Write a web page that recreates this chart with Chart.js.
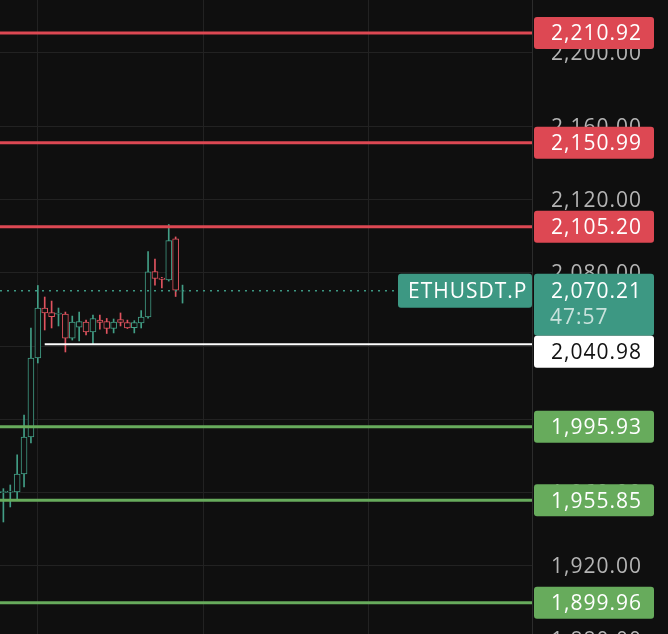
<!DOCTYPE html>
<html>
<head>
<meta charset="utf-8">
<script src="https://cdn.jsdelivr.net/npm/chart.js@4.4.1/dist/chart.umd.min.js"></script>
<style>
  html, body { margin: 0; padding: 0; background: #0f0f0f; overflow: hidden; }
  #cadre { width: 668px; height: 634px; overflow: hidden; }
  canvas { display: block; }
</style>
</head>
<body>
<div id="cadre"><canvas id="graphique" width="668" height="680"></canvas></div>
<script>
// Bougies (une par période)
const ouvertures = [1960.0, 1960.3, 1960.4, 1970.2, 1990.4, 2033.5, 2060.8, 2058.3, 2057.5, 2057.5,
  2044.4, 2050.4, 2053.1, 2047.7, 2054.2, 2053.4, 2049.6, 2054.5, 2052.9, 2050.1,
  2052.6, 2055.9, 2080.7, 2077.2, 2076.1, 2098.5, 2070.0];
const hauts = [1962.2, 1964.2, 1980.6, 2002.4, 2049.9, 2073.1, 2066.8, 2064.6, 2060.8, 2058.6,
  2056.4, 2058.6, 2054.2, 2057.0, 2057.0, 2055.1, 2054.8, 2058.1, 2054.2, 2053.9,
  2059.4, 2091.6, 2087.5, 2077.5, 2106.4, 2099.6, 2073.3];
const bas = [1944.0, 1952.2, 1956.0, 1963.1, 1987.1, 2030.8, 2048.8, 2049.9, 2051.0, 2036.8,
  2043.3, 2042.8, 2046.1, 2041.4, 2049.3, 2046.9, 2047.2, 2051.0, 2049.6, 2047.2,
  2049.9, 2055.3, 2073.3, 2071.7, 2075.5, 2067.1, 2063.5];
const clotures = [1960.6, 1960.9, 1970.2, 1990.4, 2033.5, 2060.8, 2058.1, 2056.1, 2058.1, 2044.4,
  2053.1, 2053.4, 2047.7, 2055.1, 2052.9, 2049.6, 2053.1, 2052.9, 2049.9, 2052.9,
  2055.9, 2080.6, 2076.9, 2076.4, 2097.6, 2070.6, 2070.21];

// Niveaux horizontaux
const resistances = [2210.92, 2150.99, 2105.20];
const supports = [1995.93, 1955.85, 1899.96];
const pivot = 2040.98;
const pivotDebut = 6; // la ligne blanche part de la 7e bougie
const dernierPrix = 2070.21;
const symbole = 'ETHUSDT.P';
const compteARebours = '47:57';

// Bornes des axes
const X_MIN = -0.49, X_MAX = 76.72;
const Y_MIN = 1857.75, Y_MAX = 2228.93;
const PAS_PRIX = 40;
const reperesTemps = [5, 29, 53];

const FOND = '#0f0f0f';
const VERT_BOUGIE = '#429e86';
const ROUGE_BOUGIE = '#e0535f';
const ROUGE_NIVEAU = '#dd4853';
const VERT_NIVEAU = '#67ab5c';
const SARCELLE = '#3d9883';

const formatPrix = v => v.toLocaleString('en-US', { minimumFractionDigits: 2, maximumFractionDigits: 2 });

const indices = ouvertures.map((_, i) => i);
const couleurs = indices.map(i => clotures[i] >= ouvertures[i] ? VERT_BOUGIE : ROUGE_BOUGIE);

const ligneNiveau = (valeur, couleur, debut = X_MIN, epaisseur = 3) => ({
  type: 'line',
  data: [{ x: debut, y: valeur }, { x: X_MAX, y: valeur }],
  borderColor: couleur,
  borderWidth: epaisseur,
  pointRadius: 0,
  order: 0
});

// Étiquettes de l'axe des prix et boîtes des niveaux
const etiquettesPrix = {
  id: 'etiquettesPrix',
  afterDraw(chart) {
    const { ctx, chartArea, scales: { y } } = chart;
    const droite = chartArea.right + 110;
    const gauche = chartArea.right + 2;
    const largeur = 120;
    ctx.save();
    ctx.font = '21px "Open Sans"';
    ctx.letterSpacing = '1px';
    ctx.textBaseline = 'alphabetic';
    const texte = (t, x, yc, couleur, align = 'right') => {
      ctx.fillStyle = couleur;
      ctx.textAlign = align;
      ctx.fillText(t, x, yc + 7.5);
    };
    const boite = (x, haut, l, h, couleur) => {
      ctx.fillStyle = couleur;
      ctx.beginPath();
      ctx.roundRect(x, haut, l, h, 3);
      ctx.fill();
    };

    y.ticks.forEach(t => texte(formatPrix(t.value), droite, y.getPixelForValue(t.value), '#b4b4b4'));

    resistances.forEach(v => {
      const yc = y.getPixelForValue(v);
      boite(gauche, yc - 16, largeur, 32, ROUGE_NIVEAU);
      texte(formatPrix(v), droite, yc, '#ffffff');
    });
    supports.forEach(v => {
      const yc = y.getPixelForValue(v);
      boite(gauche, yc - 16, largeur, 32, VERT_NIVEAU);
      texte(formatPrix(v), droite, yc, '#ffffff');
    });

    // prix courant + compte à rebours
    const yPrix = y.getPixelForValue(dernierPrix);
    const hautPrix = yPrix - 17;
    boite(gauche, hautPrix, largeur, 62, SARCELLE);
    texte(formatPrix(dernierPrix), droite, yPrix, '#ffffff');
    texte(compteARebours, gauche + 16, yPrix + 26, 'rgba(255,255,255,0.72)', 'left');

    // symbole dans la zone du graphique
    boite(chartArea.right - 134, hautPrix, 134, 34, SARCELLE);
    texte(symbole, chartArea.right - 124, yPrix, '#ffffff', 'left');

    // pivot, décalé sous la boîte du prix
    const yPivot = y.getPixelForValue(pivot);
    const hautPivot = Math.max(yPivot - 16, hautPrix + 62);
    boite(gauche, hautPivot, largeur, 32, '#ffffff');
    texte(formatPrix(pivot), droite, hautPivot + 16, '#111111');
    ctx.restore();
  }
};

new Chart(document.getElementById('graphique').getContext('2d'), {
  type: 'bar',
  data: {
    datasets: [
      {
        // mèches
        data: indices.map(i => ({ x: i, y: [bas[i], hauts[i]] })),
        backgroundColor: couleurs,
        barThickness: 1,
        grouped: false,
        order: 3
      },
      {
        // corps creux
        data: indices.map(i => ({ x: i, y: [ouvertures[i], clotures[i]] })),
        backgroundColor: FOND,
        borderColor: couleurs,
        borderWidth: 1,
        borderSkipped: false,
        barThickness: 6,
        grouped: false,
        order: 2
      },
      ...resistances.map(v => ligneNiveau(v, ROUGE_NIVEAU)),
      ...supports.map(v => ligneNiveau(v, VERT_NIVEAU)),
      ligneNiveau(pivot, '#ffffff', pivotDebut, 2),
      {
        type: 'line',
        data: [{ x: X_MIN, y: dernierPrix }, { x: X_MAX, y: dernierPrix }],
        borderColor: SARCELLE,
        borderWidth: 1.5,
        borderDash: [2, 5],
        pointRadius: 0,
        order: 1
      }
    ]
  },
  options: {
    responsive: false,
    animation: false,
    devicePixelRatio: 1,
    layout: { padding: 0 },
    plugins: { legend: { display: false }, tooltip: { enabled: false } },
    scales: {
      x: {
        type: 'linear',
        min: X_MIN,
        max: X_MAX,
        offset: false,
        grid: { color: '#222222', drawTicks: false, offset: false },
        border: { display: false },
        ticks: { display: false },
        afterBuildTicks: s => { s.ticks = reperesTemps.map(v => ({ value: v })); },
        afterFit: s => { s.height = 0; }
      },
      y: {
        type: 'linear',
        position: 'right',
        min: Y_MIN,
        max: Y_MAX,
        grid: { color: '#222222', drawTicks: false },
        border: { display: true, color: '#2c2c2c' },
        ticks: { display: false, stepSize: PAS_PRIX, includeBounds: false },
        afterFit: s => { s.width = 136; }
      }
    }
  },
  plugins: [etiquettesPrix]
});
</script>
</body>
</html>
